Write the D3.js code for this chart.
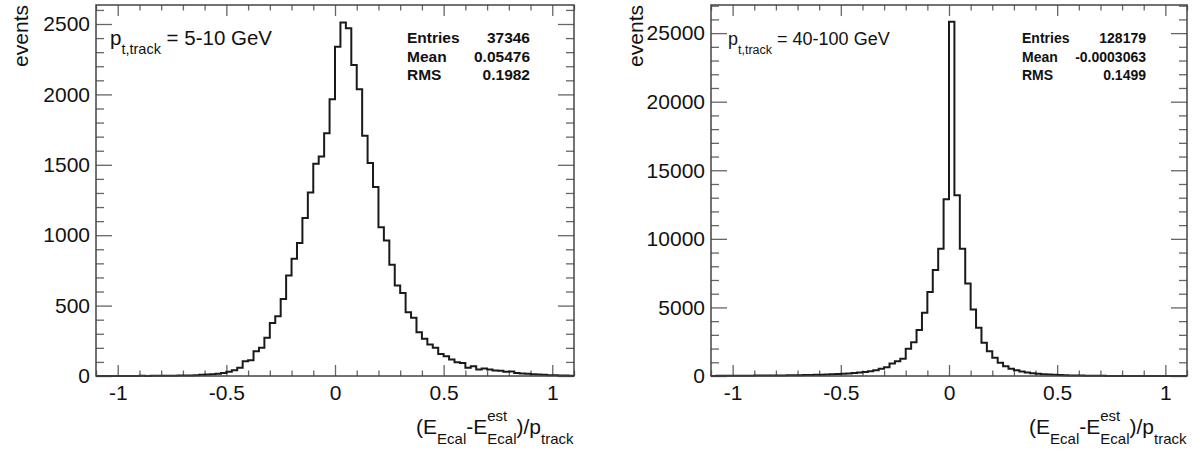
<!DOCTYPE html>
<html>
<head>
<meta charset="utf-8">
<script src="https://cdn.jsdelivr.net/npm/d3@7"></script>
<style>
  body { margin: 0; background: #fff; }
  svg { display: block; }
  text { font-family: "Liberation Sans", Arial, Helvetica, sans-serif; }
</style>
</head>
<body>
<div id="chart"></div>
<script>
// histogram binning: 88 bins of 0.025 from -1.1 to 1.1
const binLow = -1.1;
const binWidth = 0.025;
const xDomain = [-1.1, 1.1];
const xMajorTicks = [-1, -0.5, 0, 0.5, 1];
const xTickLabels = ["-1", "-0.5", "0", "0.5", "1"];

// p_t,track = 5-10 GeV
const countsLow = [
  0, 0, 0, 0, 0, 0, 0, 0, 1, 0, 1, 1, 2, 1,
  2, 3, 3, 4, 6, 8, 10, 12, 16,
  22, 30, 41, 58, 105, 112, 176, 200, 271, 377, 425, 547, 713, 833, 944, 1122, 1304, 1507, 1559, 1725, 1966,
  2339, 2510, 2470, 2209, 2037, 1706, 1512, 1342, 1056, 963, 791, 642, 590, 453, 413, 311, 264, 223, 200, 157,
  141, 117, 98, 93, 58, 70, 46, 53, 46, 39,
  38, 30, 32, 22, 18, 16, 12, 10, 8, 6, 5, 4, 3, 2
];
// p_t,track = 40-100 GeV
const countsHigh = [
  8, 10, 12, 15, 18, 20, 22, 25, 28, 30, 33, 36, 40, 45,
  50, 55, 60, 70, 80, 90, 100, 110, 125, 140, 160, 180, 210, 250, 300, 350,
  426, 523, 645, 912, 1083, 1253, 1983, 2469, 3345, 4611, 6119, 7725, 9282, 12882,
  25826, 13175, 9282, 6751, 4854, 3516, 2421, 1813, 1326, 961, 718, 523, 426, 328,
  255, 207, 158, 134, 110, 85, 70, 55, 45, 35, 28, 22, 18, 14, 10, 8, 6, 5, 4, 3, 3, 2, 2, 1, 1, 1, 0, 0, 0, 0
];

const yTicksLow = [0, 500, 1000, 1500, 2000, 2500];
const yTicksHigh = [0, 5000, 10000, 15000, 20000, 25000];
const statNames = ["Entries", "Mean", "RMS"];
const statsLow = ["37346", "0.05476", "0.1982"];
const statsHigh = ["128179", "-0.0003063", "0.1499"];

const W = 1200, H = 452;
const svg = d3.select("#chart").append("svg")
  .attr("width", W)
  .attr("height", H);

const panels = [
  { counts: countsLow, yTicks: yTicksLow, yMax: 2635, yMinorStep: 100, stats: statsLow,
    left: 96, right: 574, top: 5, bottom: 376, yTitleX: 28,
    ptLabel: "5-10 GeV", ptX: 110, ptSize: 20.5, ptSub: 14.5,
    statX: 407, statR: 530, statSize: 15.5 },
  { counts: countsHigh, yTicks: yTicksHigh, yMax: 27050, yMinorStep: 1000, stats: statsHigh,
    left: 711, right: 1187, top: 5, bottom: 376, yTitleX: 643,
    ptLabel: "40-100 GeV", ptX: 728, ptSize: 18, ptSub: 12.5,
    statX: 1022, statR: 1146, statSize: 14 }
];

panels.forEach(drawPanel);

function styleAxis(g, color) {
  g.select(".domain").remove();
  g.selectAll(".tick line").attr("stroke", color).attr("stroke-width", 1.3);
  g.selectAll(".tick text").style("font-size", "21px").attr("fill", "#111");
}

function drawPanel(p) {
  var x = d3.scaleLinear().domain(xDomain).range([p.left, p.right]);
  var y = d3.scaleLinear().domain([0, p.yMax]).range([p.bottom, p.top]);

  var xMinor = d3.range(-11, 12).map(i => i / 10).filter(v => xMajorTicks.indexOf(v) < 0);
  var yMinor = d3.range(0, p.yMax, p.yMinorStep).filter(v => p.yTicks.indexOf(v) < 0);

  var g = svg.append("g");

  // bottom axis (labels) + minor
  g.append("g").attr("transform", `translate(0,${p.bottom})`)
    .call(d3.axisBottom(x).tickValues(xMajorTicks).tickSize(-11).tickPadding(9)
      .tickFormat((d, i) => xTickLabels[i]))
    .call(a => styleAxis(a, "#666"));
  g.append("g").attr("transform", `translate(0,${p.bottom})`)
    .call(d3.axisBottom(x).tickValues(xMinor).tickSize(-5.5).tickFormat(""))
    .call(a => styleAxis(a, "#666"));
  // top ticks
  g.append("g").attr("transform", `translate(0,${p.top})`)
    .call(d3.axisTop(x).tickValues(xMajorTicks).tickSize(-11).tickFormat(""))
    .call(a => styleAxis(a, "#666"));
  g.append("g").attr("transform", `translate(0,${p.top})`)
    .call(d3.axisTop(x).tickValues(xMinor).tickSize(-5.5).tickFormat(""))
    .call(a => styleAxis(a, "#666"));

  // left axis + minor
  g.append("g").attr("transform", `translate(${p.left},0)`)
    .call(d3.axisLeft(y).tickValues(p.yTicks).tickSize(-16).tickPadding(6).tickFormat(d3.format("d")))
    .call(a => styleAxis(a, "#666"));
  g.append("g").attr("transform", `translate(${p.left},0)`)
    .call(d3.axisLeft(y).tickValues(yMinor).tickSize(-8).tickFormat(""))
    .call(a => styleAxis(a, "#666"));
  // right ticks
  g.append("g").attr("transform", `translate(${p.right},0)`)
    .call(d3.axisRight(y).tickValues(p.yTicks).tickSize(-16).tickFormat(""))
    .call(a => styleAxis(a, "#666"));
  g.append("g").attr("transform", `translate(${p.right},0)`)
    .call(d3.axisRight(y).tickValues(yMinor).tickSize(-8).tickFormat(""))
    .call(a => styleAxis(a, "#666"));

  // histogram outline
  var pts = [[binLow, 0]];
  p.counts.forEach(function (c, i) {
    var lo = binLow + i * binWidth;
    pts.push([lo, c], [lo + binWidth, c]);
  });
  pts.push([binLow + p.counts.length * binWidth, 0]);

  g.append("path")
    .datum(pts)
    .attr("fill", "none")
    .attr("stroke", "#1a1a1a")
    .attr("stroke-width", 2)
    .attr("d", d3.line().x(d => x(d[0])).y(d => y(d[1])));

  // frame
  g.append("rect")
    .attr("x", p.left).attr("y", p.top)
    .attr("width", p.right - p.left).attr("height", p.bottom - p.top)
    .attr("fill", "none").attr("stroke", "#444").attr("stroke-width", 1.5);

  // y title
  g.append("text")
    .attr("transform", `translate(${p.yTitleX},${p.top}) rotate(-90)`)
    .attr("text-anchor", "end")
    .style("font-size", "21px")
    .attr("fill", "#111")
    .text("events");

  // x title: (E_Ecal - E^est_Ecal)/p_track
  var tt = g.append("text").attr("y", 434).style("font-size", "21px").attr("fill", "#111");
  tt.append("tspan").text("(E");
  tt.append("tspan").attr("dy", 10).style("font-size", "15px").text("Ecal");
  tt.append("tspan").attr("dy", -10).text("-E");
  var sup = tt.append("tspan").attr("dy", -13).style("font-size", "15px").text("est");
  var wsup = sup.node().getComputedTextLength();
  tt.append("tspan").attr("dx", -wsup).attr("dy", 23).style("font-size", "15px").text("Ecal");
  tt.append("tspan").attr("dy", -10).text(")/p");
  tt.append("tspan").attr("dy", 10).style("font-size", "15px").text("track");
  var bb = tt.node().getBBox();
  tt.attr("x", p.right - (bb.x + bb.width));

  // p_t,track label
  var pt = g.append("text").attr("x", p.ptX).attr("y", 45)
    .style("font-size", p.ptSize + "px").attr("fill", "#111");
  pt.append("tspan").text("p");
  pt.append("tspan").attr("dy", 9).style("font-size", p.ptSub + "px").text("t,track");
  pt.append("tspan").attr("dy", -9).text(" = " + p.ptLabel);

  // stats
  statNames.forEach(function (name, i) {
    var yy = 43 + i * 18.6;
    g.append("text").attr("x", p.statX).attr("y", yy)
      .style("font-size", p.statSize + "px").style("font-weight", "bold").attr("fill", "#111")
      .text(name);
    g.append("text").attr("x", p.statR).attr("y", yy)
      .attr("text-anchor", "end")
      .style("font-size", p.statSize + "px").style("font-weight", "bold").attr("fill", "#111")
      .text(p.stats[i]);
  });
}
</script>
</body>
</html>
